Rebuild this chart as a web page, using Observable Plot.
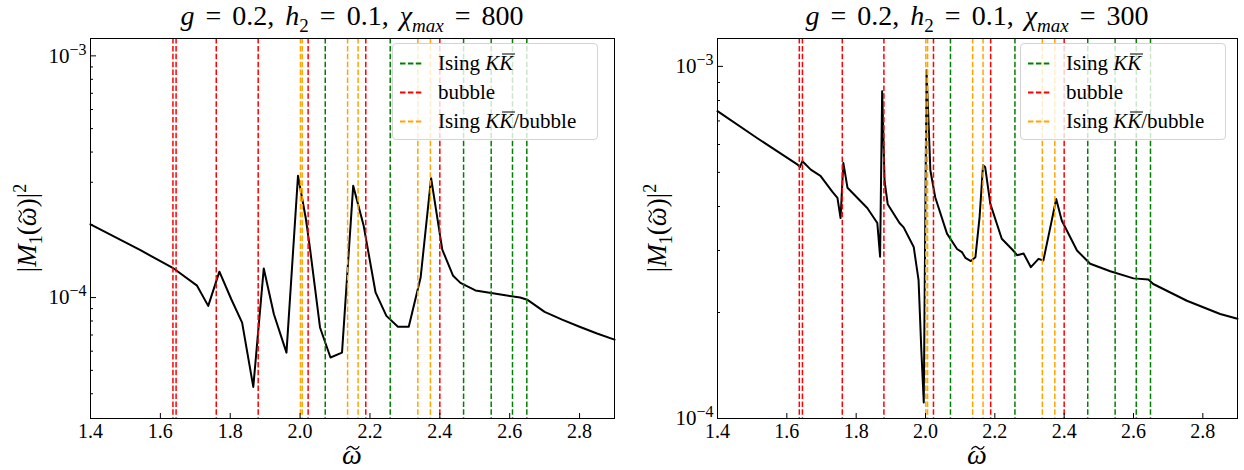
<!DOCTYPE html>
<html><head><meta charset="utf-8">
<script src="https://cdn.jsdelivr.net/npm/d3@7"></script>
<script src="https://cdn.jsdelivr.net/npm/@observablehq/plot@0.6"></script>
<style>
body{margin:0;background:#fff;}
#wrap{position:relative;width:1244px;height:470px;font-family:"Liberation Serif","Times New Roman","DejaVu Serif","Noto Serif",serif;color:#000;overflow:hidden;}
.panel{position:absolute;top:0;}
.lbl{position:absolute;white-space:nowrap;transform:translate(-50%,-50%);line-height:1;}
.ttl{position:absolute;white-space:nowrap;transform:translateX(-50%);line-height:1;top:2px;}
sub,sup{line-height:0;}
.ylab{transform:translate(-50%,-50%) rotate(-90deg);}
.legend{position:absolute;background:rgba(255,255,255,0.8);border:1px solid #d4d4d4;border-radius:4px;box-sizing:border-box;}
.row{position:absolute;left:7px;display:flex;align-items:center;white-space:nowrap;font-size:21px;line-height:1;transform:translateY(-50%);}
.row svg{margin-right:16px;}
.ovk{position:relative;display:inline-block;}
.ovk .bar{position:absolute;left:0.14em;right:-0.06em;top:0.05em;height:1.2px;background:#000;}
.tw{position:relative;display:inline-block;}
.tw svg{position:absolute;left:50%;transform:translateX(-45%);top:0.13em;}
</style></head><body><div id="wrap"></div>
<script>
// ---- data ----
const omega800 = [1.400, 1.543, 1.638, 1.705, 1.737, 1.769, 1.803, 1.834, 1.866, 1.896, 1.925, 1.961, 1.994, 2.016, 2.028, 2.057, 2.087, 2.120, 2.152, 2.182, 2.216, 2.247, 2.280, 2.311, 2.345, 2.375, 2.407, 2.438, 2.459, 2.502, 2.574, 2.630, 2.650, 2.700, 2.750, 2.800, 2.850, 2.900];
const m800 = [2.01e-4, 1.57e-4, 1.32e-4, 1.12e-4, 9.24e-5, 1.28e-4, 9.84e-5, 7.88e-5, 4.27e-5, 1.32e-4, 8.53e-5, 5.92e-5, 3.19e-4, 2.14e-4, 1.61e-4, 7.52e-5, 5.65e-5, 5.92e-5, 2.90e-4, 1.98e-4, 1.05e-4, 8.4e-5, 7.57e-5, 7.57e-5, 1.21e-4, 3.12e-4, 1.58e-4, 1.23e-4, 1.15e-4, 1.07e-4, 1.03e-4, 1.0e-4, 9.8e-5, 8.73e-5, 8.1e-5, 7.57e-5, 7.1e-5, 6.7e-5];

const omega300 = [1.400, 1.514, 1.630, 1.638, 1.645, 1.669, 1.697, 1.731, 1.746, 1.755, 1.763, 1.775, 1.832, 1.861, 1.869, 1.875, 1.882, 1.891, 1.925, 1.937, 1.966, 1.980, 1.988, 1.995, 2.003, 2.014, 2.028, 2.062, 2.091, 2.105, 2.115, 2.131, 2.144, 2.156, 2.166, 2.172, 2.187, 2.220, 2.253, 2.264, 2.283, 2.304, 2.326, 2.340, 2.360, 2.377, 2.393, 2.437, 2.475, 2.533, 2.600, 2.643, 2.657, 2.754, 2.850, 2.900];
const m300 = [7.46e-4, 6.26e-4, 5.27e-4, 5.18e-4, 5.38e-4, 5.09e-4, 4.89e-4, 4.41e-4, 4.23e-4, 3.71e-4, 5.32e-4, 4.52e-4, 3.96e-4, 3.59e-4, 2.88e-4, 8.5e-4, 4.72e-4, 4.06e-4, 3.59e-4, 3.49e-4, 3.07e-4, 2.47e-4, 1.56e-4, 1.11e-4, 9.75e-4, 5.07e-4, 4.25e-4, 3.35e-4, 3.03e-4, 2.97e-4, 2.86e-4, 2.80e-4, 2.87e-4, 3.73e-4, 5.24e-4, 5.18e-4, 4.07e-4, 3.24e-4, 3.00e-4, 2.91e-4, 2.94e-4, 2.69e-4, 2.84e-4, 2.81e-4, 3.49e-4, 4.20e-4, 3.65e-4, 3.00e-4, 2.75e-4, 2.62e-4, 2.50e-4, 2.48e-4, 2.41e-4, 2.16e-4, 1.98e-4, 1.92e-4];

const bubbleLines = [1.636, 1.645, 1.760, 1.880, 2.023, 2.188, 2.400];
const isingLines  = [2.072, 2.258, 2.468, 2.547, 2.608, 2.649];
const mixedLines  = [2.001, 2.006, 2.136, 2.166, 2.337, 2.373];

const xTicks = [1.4, 1.6, 1.8, 2.0, 2.2, 2.4, 2.6, 2.8];
const yMajor = [1e-4, 1e-3];
const yMinorLeft  = [4e-5, 5e-5, 6e-5, 7e-5, 8e-5, 9e-5, 2e-4, 3e-4, 4e-4, 5e-4, 6e-4, 7e-4, 8e-4, 9e-4];
const yMinorRight = [2e-4, 3e-4, 4e-4, 5e-4, 6e-4, 7e-4, 8e-4, 9e-4];

const KKbar = '<i>K</i><span class="ovk"><i>K</i><span class="bar"></span></span>';
const legendEntries = [
  {color: "green",  html: 'Ising ' + KKbar},
  {color: "red",    html: 'bubble'},
  {color: "orange", html: 'Ising ' + KKbar + '/bubble'}
];

const panels = [
  {omega: omega800, m: m800, chi: "800", left: 0, mL: 90, mR: 8, yDomain: [3.16e-5, 1.18e-3], minor: yMinorLeft,
   legend: {left: 392, top: 43, width: 206, height: 97}, ylabX: 27},
  {omega: omega300, m: m300, chi: "300", left: 622, mL: 95, mR: 7, yDomain: [1e-4, 1.2e-3], minor: yMinorRight,
   legend: {left: 1020, top: 43, width: 206, height: 97}, ylabX: 657}
];

const wrap = document.getElementById("wrap");
const W = 622, H = 470, mT = 38, mB = 52;
const dash = "5.5,2.4";
const FONT = "'Liberation Serif', 'Times New Roman', 'DejaVu Serif', 'Noto Serif', serif";
const tildeSvg = (w) => `<svg width="${w}" height="${w*0.4}" viewBox="0 0 14 5.6"><path d="M1 4.2 C3 0.8, 5.5 0.8, 7 2.6 S11 4.6, 13 1.2" fill="none" stroke="black" stroke-width="1.2"/></svg>`;
const omegaT = (w) => `<span class="tw"><i>ω</i>${tildeSvg(w)}</span>`;

for (const p of panels) {
  const data = p.omega.map((w, i) => ({w, v: p.m[i]}));
  const svg = Plot.plot({
    width: W, height: H,
    marginLeft: p.mL, marginRight: p.mR, marginTop: mT, marginBottom: mB,
    style: {fontFamily: FONT, fontSize: "20px", background: "white", color: "black"},
    x: {domain: [1.4, 2.9]},
    y: {type: "log", domain: p.yDomain},
    marks: [
      Plot.line(data, {x: "w", y: "v", stroke: "black", strokeWidth: 2}),
      Plot.ruleX(isingLines, {stroke: "green", strokeWidth: 1.5, strokeDasharray: dash}),
      Plot.ruleX(bubbleLines, {stroke: "red", strokeWidth: 1.5, strokeDasharray: dash}),
      Plot.ruleX(mixedLines, {stroke: "orange", strokeWidth: 1.5, strokeDasharray: dash}),
      Plot.frame({stroke: "black", strokeWidth: 1}),
      Plot.axisX({ticks: xTicks, tickSize: -5, tickPadding: 10, tickFormat: d => d.toFixed(1), label: null}),
      Plot.axisY({ticks: p.minor, tickSize: -3, tickFormat: () => "", label: null}),
      Plot.axisY({ticks: yMajor, tickSize: -6, tickPadding: 10, tickFormat: d => "10^" + Math.round(Math.log10(d)), label: null})
    ]
  });
  svg.classList.add("panel");
  svg.style.left = p.left + "px";
  svg.setAttribute("font-family", FONT);
  wrap.appendChild(svg);
  svg.querySelectorAll("text").forEach(t => { t.style.fontFamily = FONT; });

  // superscript exponents on the log tick labels
  svg.querySelectorAll('g[aria-label="y-axis tick label"] text').forEach(t => {
    const s = t.textContent;
    if (!s.includes("^")) return;
    const [b, e] = s.split("^");
    t.textContent = "";
    t.setAttribute("font-size", "21");
    const t1 = document.createElementNS("http://www.w3.org/2000/svg", "tspan");
    t1.textContent = b;
    const t2 = document.createElementNS("http://www.w3.org/2000/svg", "tspan");
    t2.textContent = e.replace("-", "\u2212");
    t2.setAttribute("dy", "-0.5em");
    t2.setAttribute("font-size", "16");
    t.appendChild(t1); t.appendChild(t2);
  });

  const cx = p.left + p.mL + (W - p.mL - p.mR) / 2;

  const title = document.createElement("div");
  title.className = "ttl";
  title.style.cssText = `left:${cx}px;font-size:28px;word-spacing:4px;`;
  title.innerHTML = `<i>g</i> = 0.2, <i>h</i><sub style="font-size:19px">2</sub> = 0.1, <i>χ<sub style="font-size:19px">max</sub></i> = ${p.chi}`;
  wrap.appendChild(title);

  const xl = document.createElement("div");
  xl.className = "lbl";
  xl.style.cssText = `left:${cx}px;top:455px;font-size:28px;`;
  xl.innerHTML = omegaT(15);
  wrap.appendChild(xl);

  const yl = document.createElement("div");
  yl.className = "lbl ylab";
  yl.style.cssText = `left:${p.ylabX}px;top:228px;font-size:27px;`;
  yl.innerHTML = `|<i>M</i><sub style="font-size:18px">1</sub>(${omegaT(14)})|<sup style="font-size:18px">2</sup>`;
  wrap.appendChild(yl);

  const lg = document.createElement("div");
  lg.className = "legend";
  const L = p.legend;
  lg.style.cssText = `left:${L.left}px;top:${L.top}px;width:${L.width}px;height:${L.height}px;`;
  legendEntries.forEach((e, i) => {
    const r = document.createElement("div");
    r.className = "row";
    r.style.top = (19 + i * 29) + "px";
    r.innerHTML = `<svg width="22" height="4"><line x1="0" y1="2" x2="22" y2="2" stroke="${e.color}" stroke-width="2" stroke-dasharray="${dash}"/></svg><span>${e.html}</span>`;
    lg.appendChild(r);
  });
  wrap.appendChild(lg);
}
</script></body></html>
